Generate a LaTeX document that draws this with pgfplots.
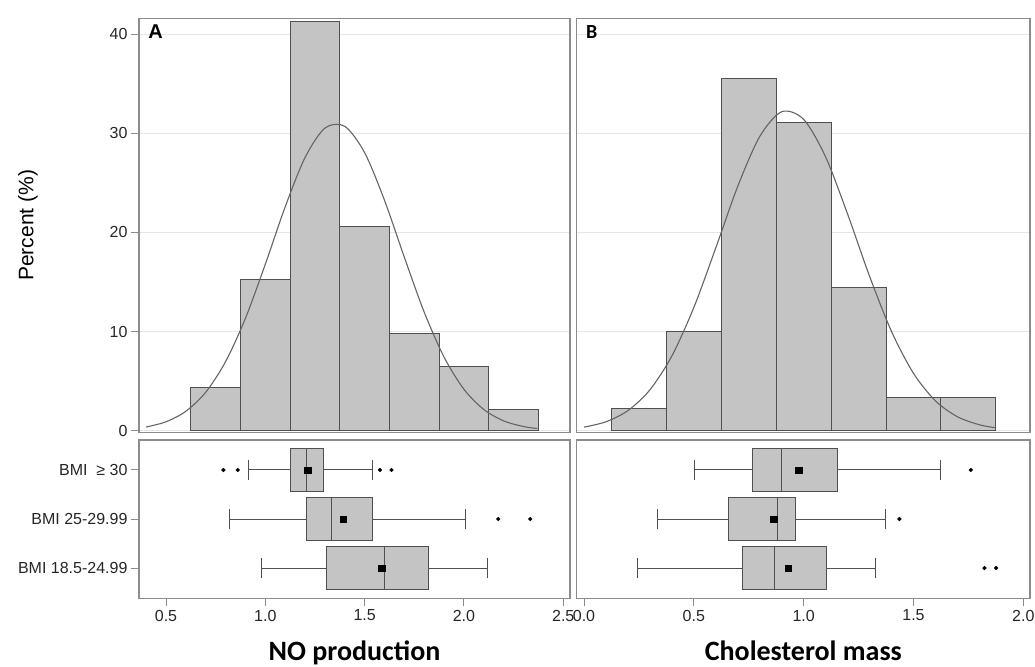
\documentclass[border=0pt]{standalone}
\usepackage{fontspec}
\setmainfont{Liberation Sans}
\newfontfamily\carlito{Carlito}
\usepackage{pgfplots}
\pgfplotsset{compat=1.18}
\usepgfplotslibrary{statistics}

\definecolor{barfill}{RGB}{196,196,196}
\definecolor{baredge}{RGB}{80,80,80}
\definecolor{curvec}{RGB}{100,100,100}
\definecolor{gridc}{RGB}{230,230,230}
\definecolor{framec}{RGB}{140,140,140}

\pgfplotsset{
  panel/.style={
    scale only axis, enlargelimits=false, anchor=south west,
    axis line style={draw=framec, line width=1.2pt},
    tick style={draw=framec, line width=1pt},
    tick align=outside, major tick length=8pt,
    ticklabel style={font=\fontsize{16}{18}\selectfont, text=black!85},
    /pgf/number format/assume math mode=true,
  },
  histpanel/.style={panel, height=414pt,
    ymin=-0.16, ymax=41.61, xtick=\empty, ytick={0,10,20,30,40},
    ytick pos=left, ymajorgrids, grid style={draw=gridc, line width=1pt}},
  boxpanel/.style={panel, height=158.3pt,
    ymin=0.382, ymax=3.612, xtick pos=bottom, ytick pos=left,
    xticklabel style={/pgf/number format/.cd, fixed, fixed zerofill, precision=1},
    xlabel style={at={(axis description cs:0.5,-0.39)}, anchor=base,
      font=\fontsize{28}{30}\selectfont\carlito\bfseries}},
  bar/.style={ybar interval, fill=barfill, draw=baredge, line width=1pt},
  fit/.style={smooth, color=curvec, line width=1.1pt, mark=none},
  bx/.style={draw=baredge, fill=barfill, line width=1pt, solid, mark=none},
  outl/.style={only marks, mark=*, mark size=1.9pt, black},
  avg/.style={only marks, mark=square*, mark size=3.1pt, black},
}

\begin{document}
\begin{tikzpicture}
\path[use as bounding box] (0,0) rectangle (1035pt,666pt);

% ---- A: NO production, histogram
\begin{axis}[histpanel, at={(139pt,233.7pt)}, width=431pt,
  xmin=0.364, xmax=2.534,
  ylabel={Percent (\%)},
  ylabel style={at={(axis description cs:-0.2575,0.5)}, anchor=center,
    font=\fontsize{21}{24}\selectfont}]
\addplot[bar] coordinates {
  (0.625,4.35) (0.875,15.22) (1.125,41.30) (1.375,20.65)
  (1.625,9.78) (1.875,6.52) (2.125,2.17) (2.375,2.17)};
\addplot[fit] coordinates {
  (0.40,0.37) (0.50,0.90) (0.60,1.96) (0.70,3.88) (0.80,6.97)
  (0.90,11.35) (1.00,16.80) (1.10,22.59) (1.20,27.56) (1.30,30.53)
  (1.40,30.71) (1.50,28.05) (1.60,23.25) (1.70,17.50)
  (1.80,11.96) (1.90,7.42) (2.00,4.18) (2.10,2.14) (2.20,0.99)
  (2.30,0.42) (2.37,0.22)};
\node[anchor=north west, inner sep=0pt, font=\bfseries\fontsize{20}{22}\selectfont]
  at (axis description cs:0.021,0.984) {A};
\end{axis}

% ---- A: box plots by BMI
\begin{axis}[boxpanel, at={(139pt,67.7pt)}, width=431pt,
  xmin=0.364, xmax=2.534, xtick={0.5,1,1.5,2,2.5},
  ytick={1,2,3},
  yticklabels={{BMI 18.5-24.99},{BMI 25-29.99},{BMI\ \ ≥ 30}},
  xlabel={NO production}]
\addplot[bx, boxplot prepared={draw direction=x, draw position=3,
  box extend=0.87, whisker extend=0.42,
  lower whisker=0.913, lower quartile=1.129, median=1.207,
  upper quartile=1.294, upper whisker=1.541}] coordinates {};
\addplot[bx, boxplot prepared={draw direction=x, draw position=2,
  box extend=0.87, whisker extend=0.42,
  lower whisker=0.818, lower quartile=1.207, median=1.333,
  upper quartile=1.541, upper whisker=2.009}] coordinates {};
\addplot[bx, boxplot prepared={draw direction=x, draw position=1,
  box extend=0.87, whisker extend=0.42,
  lower whisker=0.981, lower quartile=1.306, median=1.599,
  upper quartile=1.824, upper whisker=2.117}] coordinates {};
\addplot[outl] coordinates {
  (0.789,3) (0.861,3) (1.577,3) (1.635,3) (2.173,2) (2.334,2)};
\addplot[avg] coordinates {(1.213,3) (1.391,2) (1.586,1)};
\end{axis}

% ---- B: Cholesterol mass, histogram
\begin{axis}[histpanel, at={(576.7pt,233.7pt)}, width=453.3pt,
  xmin=-0.0332, xmax=2.0305,
  yticklabel=\empty, y tick style={draw=none}]
\addplot[bar] coordinates {
  (0.125,2.22) (0.375,10.00) (0.625,35.56) (0.875,31.11)
  (1.125,14.44) (1.375,3.33) (1.625,3.33) (1.875,3.33)};
\addplot[fit] coordinates {
  (0.00,0.36) (0.10,0.90) (0.20,2.03) (0.30,4.12) (0.40,7.54)
  (0.50,12.43) (0.60,18.45) (0.70,24.66) (0.80,29.68) (0.90,32.18)
  (1.00,31.41) (1.10,27.62) (1.20,21.86) (1.30,15.59)
  (1.40,10.01) (1.50,5.79) (1.60,3.01) (1.70,1.41) (1.80,0.60)
  (1.87,0.31)};
\node[anchor=north west, inner sep=0pt, font=\fontsize{20}{22}\selectfont\carlito\bfseries]
  at (axis description cs:0.0205,0.984) {B};
\end{axis}

% ---- B: box plots by BMI
\begin{axis}[boxpanel, at={(576.7pt,67.7pt)}, width=453.3pt,
  xmin=-0.0332, xmax=2.0305, xtick={0,0.5,1,1.5,2},
  ytick=\empty,
  xlabel={Cholesterol mass}]
\addplot[bx, boxplot prepared={draw direction=x, draw position=3,
  box extend=0.87, whisker extend=0.42,
  lower whisker=0.503, lower quartile=0.768, median=0.901,
  upper quartile=1.155, upper whisker=1.621}] coordinates {};
\addplot[bx, boxplot prepared={draw direction=x, draw position=2,
  box extend=0.87, whisker extend=0.42,
  lower whisker=0.333, lower quartile=0.656, median=0.879,
  upper quartile=0.962, upper whisker=1.374}] coordinates {};
\addplot[bx, boxplot prepared={draw direction=x, draw position=1,
  box extend=0.87, whisker extend=0.42,
  lower whisker=0.242, lower quartile=0.723, median=0.867,
  upper quartile=1.103, upper whisker=1.326}] coordinates {};
\addplot[outl] coordinates {(1.761,3) (1.436,2) (1.823,1) (1.876,1)};
\addplot[avg] coordinates {(0.977,3) (0.864,2) (0.929,1)};
\end{axis}
\end{tikzpicture}
\end{document}
